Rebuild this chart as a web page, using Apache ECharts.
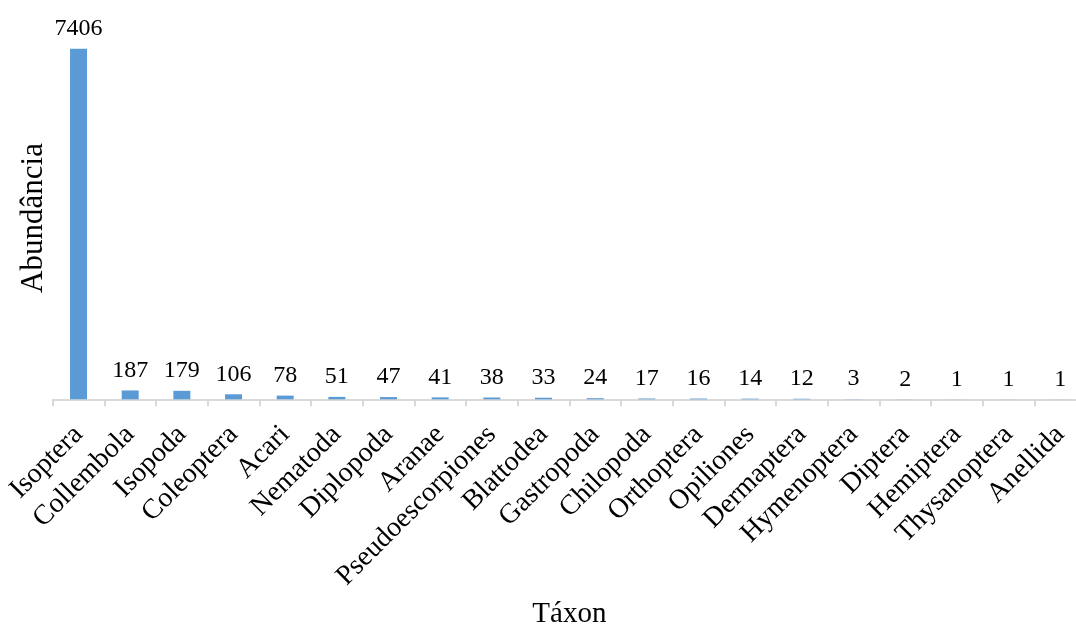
<!DOCTYPE html>
<html>
<head>
<meta charset="utf-8">
<script src="https://cdn.jsdelivr.net/npm/echarts@6/dist/echarts.min.js"></script>
<style>
  html, body { margin: 0; padding: 0; background: #ffffff; }
  #chart { width: 1076px; height: 628px; }
</style>
</head>
<body>
<div id="chart"></div>
<script>
// Soil fauna abundance by taxon
const taxa = ['Isoptera', 'Collembola', 'Isopoda', 'Coleoptera', 'Acari', 'Nematoda',
  'Diplopoda', 'Aranae', 'Pseudoescorpiones', 'Blattodea', 'Gastropoda', 'Chilopoda',
  'Orthoptera', 'Opiliones', 'Dermaptera', 'Hymenoptera', 'Diptera', 'Hemiptera',
  'Thysanoptera', 'Anellida'];
const abundance = [7406, 187, 179, 106, 78, 51, 47, 41, 38, 33, 24, 17, 16, 14, 12, 3, 2, 1, 1, 1];

const serif = '"Liberation Serif", "Times New Roman", serif';

const chart = echarts.init(document.getElementById('chart'));
chart.setOption({
  animation: false,
  grid: {
    left: 52.7, width: 1033.3, top: 20.7, bottom: 228.7,
    containLabel: false, outerBoundsMode: 'none'
  },
  xAxis: {
    type: 'category',
    data: taxa,
    name: 'Táxon',
    nameLocation: 'middle',
    nameGap: 201,
    nameTextStyle: { fontFamily: serif, fontSize: 29, color: '#000' },
    axisLine: { lineStyle: { color: '#d9d9d9', width: 2 } },
    axisTick: { show: true, length: 7, lineStyle: { color: '#d9d9d9', width: 2 } },
    axisLabel: {
      rotate: 45, interval: 0, margin: 31,
      fontFamily: serif, fontSize: 28, color: '#000'
    }
  },
  yAxis: {
    type: 'value',
    min: 0,
    max: 8000,
    name: 'Abundância',
    nameLocation: 'middle',
    nameGap: 3,
    nameTextStyle: { fontFamily: serif, fontSize: 31, color: '#000', padding: [0, 16, 0, 0] },
    axisLine: { show: false },
    axisTick: { show: false },
    axisLabel: { show: false },
    splitLine: { show: false }
  },
  series: [{
    type: 'bar',
    data: abundance,
    barWidth: 17,
    itemStyle: { color: '#5b9bd5' },
    label: {
      show: true,
      position: 'top',
      distance: 8,
      fontFamily: serif,
      fontSize: 24,
      color: '#000'
    }
  }]
});
</script>
</body>
</html>
